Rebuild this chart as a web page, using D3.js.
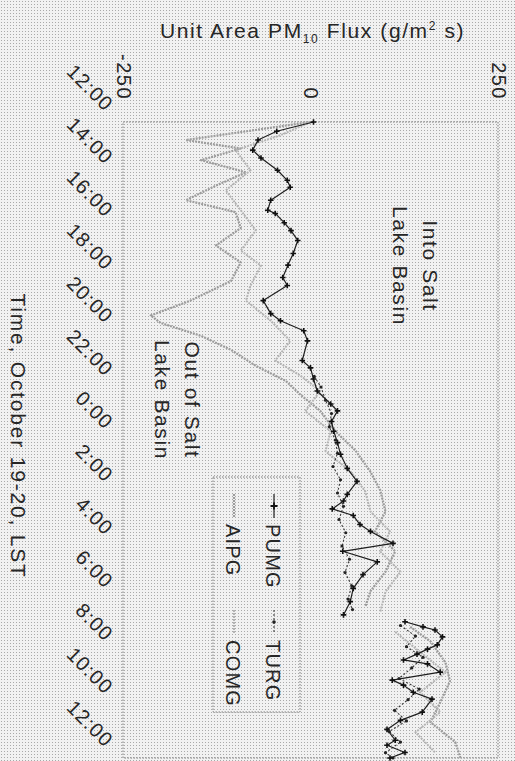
<!DOCTYPE html>
<html>
<head>
<meta charset="utf-8">
<script src="https://cdn.jsdelivr.net/npm/d3@7"></script>
<style>
  html, body { margin: 0; padding: 0; background: #fff; }
  svg { display: block; }
  text { font-family: "Liberation Sans", Arial, sans-serif; fill: #262626; }
</style>
</head>
<body>
<svg id="chart" width="515" height="761"></svg>
<script>
// Time axis: hours after 12:00 LST on October 19, labelled every two hours
const timeLabels = ["12:00", "14:00", "16:00", "18:00", "20:00", "22:00", "0:00",
                    "2:00", "4:00", "6:00", "8:00", "10:00", "12:00"];
const fluxTicks = [-250, 0, 250];
const seriesNames = ["PUMG", "TURG", "AIPG", "COMG"];

// [hours after 12:00, unit area PM10 flux]; null marks a break in the record
const pumg = [
  [0.0, 4], [0.35, -45], [0.68, -70], [1.06, -77], [1.36, -66], [1.82, -44], [2.2, -31],
  [2.46, -27], [2.95, -53], [3.33, -57], [3.45, -47], [3.8, -35], [4.1, -26], [4.47, -17],
  [4.96, -23], [5.4, -30], [5.87, -37], [6.17, -31], [6.74, -63], [7.23, -53], [7.5, -40],
  [7.88, -9], [8.26, -4], [9.0, -11], [9.28, 0], [9.7, 4], [10.15, 9], [10.64, 27],
  [10.9, 36], [11.3, 28], [11.67, 31], [12.1, 36], [12.54, 40], [13.07, 49], [13.56, 62],
  [14.05, 49], [14.3, 44], [14.6, 29], [14.85, 57], [15.19, 66], [15.45, 80], [15.9, 110],
  [16.2, 43], [16.6, 89], [17.08, 70], [17.6, 57], [18.1, 53], [18.6, 44], [18.7, null],
  [18.86, 126], [19.05, 150], [19.17, 166], [19.43, 176], [19.73, 169], [19.89, 156],
  [20.08, 142], [20.3, 124], [20.45, 156], [20.76, 173], [21.06, 109], [21.25, 124],
  [21.52, 137], [21.78, 162], [22.27, 149], [22.58, 120], [22.92, 102], [23.33, 113],
  [23.52, 102], [23.79, 126], [24.0, 106]
];
const turg = [
  [9.6, 5], [10.0, 14], [10.5, 20], [11.0, 28], [11.5, 25], [12.0, 33], [12.5, 36],
  [13.0, 30], [13.5, 40], [14.0, 36], [14.5, 44], [15.0, 38], [15.5, 47], [16.0, 42],
  [16.5, 52], [17.0, 46], [17.5, 55], [18.0, 50], [18.4, 56], [18.7, null],
  [19.0, 120], [19.4, 140], [19.8, 128], [20.2, 150], [20.6, 135], [21.0, 118],
  [21.4, 145], [21.8, 130], [22.2, 112], [22.6, 128], [23.0, 105], [23.4, 120],
  [23.8, 100], [24.0, 110]
];
const aipg = [
  [0.0, 0], [0.68, -166], [1.0, -93], [1.44, -146], [1.9, -86], [2.4, -126], [2.95, -166],
  [3.4, -100], [4.0, -93], [4.66, -126], [5.3, -93], [6.0, -106], [6.74, -160],
  [7.3, -213], [7.58, -200], [8.07, -146], [8.6, -106], [9.2, -73], [9.77, -33],
  [10.3, -13], [10.9, 13], [11.67, 33], [12.4, 60], [13.2, 80], [13.9, 93], [14.7, 100],
  [15.45, 86], [16.2, 113], [16.97, 100], [17.7, 80], [18.3, 73], [18.7, null],
  [19.05, 133], [19.6, 160], [20.4, 180], [21.1, 186], [21.9, 173], [22.65, 160],
  [23.4, 193], [24.0, 200]
];
const comg = [
  [0.0, 0], [0.5, -40], [1.06, -100], [1.82, -80], [2.58, -113], [3.33, -93], [4.09, -73],
  [4.85, -93], [5.42, -66], [6.17, -80], [6.74, -86], [7.5, -53], [8.26, -27], [9.0, -47],
  [9.58, -13], [10.15, 13], [10.91, -7], [11.67, 27], [12.42, 20], [13.18, 53],
  [13.94, 73], [14.7, 80], [15.45, 106], [16.21, 93], [16.97, 120], [17.73, 100],
  [18.48, 93], [18.7, null],
  [19.24, 113], [20.0, 146], [20.76, 180], [21.52, 146], [22.27, 173], [23.03, 140],
  [23.79, 166]
];

const svg = d3.select("#chart");

// Halftone-style paper background
const defs = svg.append("defs");
const pat = defs.append("pattern").attr("id", "paper")
  .attr("width", 3).attr("height", 3).attr("patternUnits", "userSpaceOnUse");
pat.append("rect").attr("width", 3).attr("height", 3).attr("fill", "#f1f1f1");
pat.append("rect").attr("x", 1).attr("y", 1).attr("width", 1).attr("height", 1).attr("fill", "#a9a9a9");
svg.append("rect").attr("width", 515).attr("height", 761).attr("fill", "url(#paper)");

// The plot is laid out turned a quarter turn: flux runs left to right, time runs down
const flux = d3.scaleLinear().domain([-250, 250]).range([123, 498]);
const hours = d3.scaleLinear().domain([0, 24]).range([122, 758]);

// Plot frame
svg.append("rect")
  .attr("x", flux(-250)).attr("y", hours(0))
  .attr("width", flux(250) - flux(-250)).attr("height", hours(24) - hours(0))
  .attr("fill", "none").attr("stroke", "#7a7a7a").attr("stroke-width", 1)
  .attr("stroke-dasharray", "1.5,1.5");

// Flux axis along the top
const topAxis = svg.append("g").attr("transform", `translate(0,${hours(0)})`)
  .call(d3.axisTop(flux).tickValues(fluxTicks).tickSize(0).tickFormat(d => String(d)));
topAxis.select(".domain").remove();
topAxis.selectAll("text")
  .attr("x", 0).attr("y", 0).attr("dy", "0.35em")
  .attr("transform", "translate(0,-22) rotate(90)")
  .attr("text-anchor", "end")
  .style("font-size", "20px").style("letter-spacing", "1.5px")
  .style("font-family", "'Liberation Sans', Arial, sans-serif").attr("fill", "#262626");

// Time axis along the left
const leftAxis = svg.append("g").attr("transform", `translate(${flux(-250)},0)`)
  .call(d3.axisLeft(hours).tickValues(d3.range(0, 25, 2)).tickSize(0)
    .tickFormat((d, i) => timeLabels[i]));
leftAxis.select(".domain").remove();
leftAxis.selectAll("text")
  .attr("x", 0).attr("y", 0).attr("dy", "0.35em")
  .attr("transform", "translate(-13,-15) rotate(45)")
  .attr("text-anchor", "end")
  .style("font-size", "20px").style("letter-spacing", "1.2px")
  .style("font-family", "'Liberation Sans', Arial, sans-serif").attr("fill", "#262626");

// Axis titles
const title = svg.append("text").attr("x", (flux(-250) + flux(250)) / 2 + 2).attr("y", 38)
  .attr("text-anchor", "middle").style("font-size", "21px").style("letter-spacing", "1.6px");
title.append("tspan").text("Unit Area PM");
title.append("tspan").attr("dy", 5).style("font-size", "12px").text("10");
title.append("tspan").attr("dy", -5).text(" Flux (g/m");
title.append("tspan").attr("dy", -8).style("font-size", "12px").text("2");
title.append("tspan").attr("dy", 8).text(" s)");

svg.append("text")
  .attr("transform", `translate(11,${(hours(0) + hours(24)) / 2 - 4}) rotate(90)`)
  .attr("text-anchor", "middle").style("font-size", "21px").style("letter-spacing", "1.8px")
  .text("Time, October 19-20, LST");

// Series lines
const line = d3.line()
  .defined(d => d[1] !== null)
  .x(d => flux(d[1]))
  .y(d => hours(d[0]));

const styles = {
  AIPG: { data: aipg, stroke: "#9c9c9c", width: 2.2, dash: "2,1" },
  COMG: { data: comg, stroke: "#b4b4b4", width: 2.0, dash: "2,1" },
  TURG: { data: turg, stroke: "#3a3a3a", width: 1.1, dash: "2,2" },
  PUMG: { data: pumg, stroke: "#1e1e1e", width: 1.2, dash: null }
};

["AIPG", "COMG", "TURG", "PUMG"].forEach(name => {
  const s = styles[name];
  svg.append("path").datum(s.data)
    .attr("d", line)
    .attr("fill", "none")
    .attr("stroke", s.stroke)
    .attr("stroke-width", s.width)
    .attr("stroke-dasharray", s.dash)
    .attr("stroke-linejoin", "round");
});

// Markers
svg.append("g").selectAll("circle")
  .data(turg.filter(d => d[1] !== null)).join("circle")
  .attr("cx", d => flux(d[1])).attr("cy", d => hours(d[0]))
  .attr("r", 1.6).attr("fill", "#222");

svg.append("g").selectAll("path")
  .data(pumg.filter(d => d[1] !== null)).join("path")
  .attr("transform", d => `translate(${flux(d[1])},${hours(d[0])})`)
  .attr("d", "M-2.8,0H2.8M0,-2.8V2.8")
  .attr("stroke", "#111").attr("stroke-width", 1.6);

// Direction annotations
function rotatedLines(x0, yc, lines, gap) {
  lines.forEach((t, i) => {
    svg.append("text")
      .attr("transform", `translate(${x0 - i * gap},${yc}) rotate(90)`)
      .attr("text-anchor", "middle")
      .style("font-size", "21px").style("letter-spacing", "1.6px")
      .text(t);
  });
}
rotatedLines(423, 266, ["Into Salt", "Lake Basin"], 30);
rotatedLines(185, 400, ["Out of Salt", "Lake Basin"], 30);

// Legend
const lg = svg.append("g");
lg.append("rect").attr("x", 213).attr("y", 477).attr("width", 87).attr("height", 235)
  .attr("fill", "none").attr("stroke", "#7a7a7a").attr("stroke-dasharray", "1.5,1.5");

const legendItems = [
  { name: seriesNames[0], col: 0, row: 0 },
  { name: seriesNames[1], col: 0, row: 1 },
  { name: seriesNames[2], col: 1, row: 0 },
  { name: seriesNames[3], col: 1, row: 1 }
];
legendItems.forEach(it => {
  const s = styles[it.name];
  const cx = 274 - it.col * 40;
  const y0 = 494 + it.row * 116;
  lg.append("line").attr("x1", cx).attr("x2", cx).attr("y1", y0).attr("y2", y0 + 24)
    .attr("stroke", s.stroke).attr("stroke-width", s.width).attr("stroke-dasharray", s.dash);
  if (it.name === "PUMG") {
    lg.append("path").attr("transform", `translate(${cx},${y0 + 12})`)
      .attr("d", "M-3.5,0H3.5M0,-3.5V3.5").attr("stroke", "#111").attr("stroke-width", 1.8);
  }
  if (it.name === "TURG") {
    lg.append("circle").attr("cx", cx).attr("cy", y0 + 12).attr("r", 1.8).attr("fill", "#222");
  }
  lg.append("text")
    .attr("transform", `translate(${cx - 8},${y0 + 30}) rotate(90)`)
    .attr("text-anchor", "start")
    .style("font-size", "20px").style("letter-spacing", "1.2px")
    .text(it.name);
});
</script>
</body>
</html>
